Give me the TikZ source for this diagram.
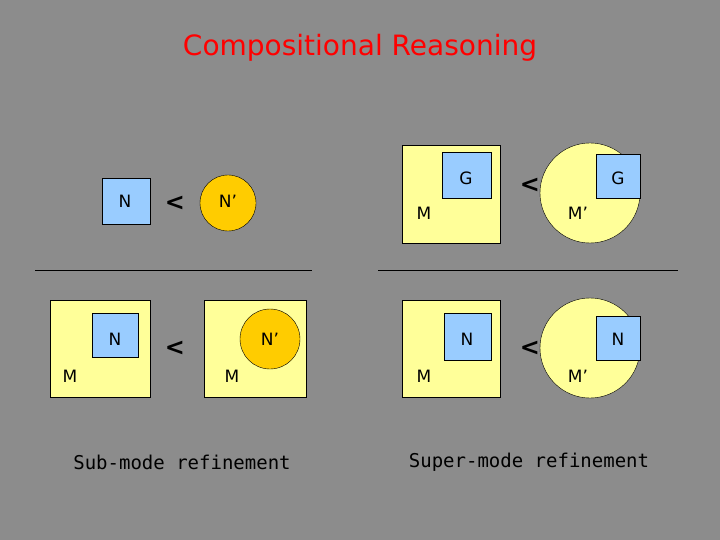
\documentclass[tikz,border=0pt]{standalone}
\usepackage{fontspec}
\setmainfont{DejaVu Sans}
\setmonofont{DejaVu Sans Mono}
\definecolor{bggray}{HTML}{8C8C8C}
\definecolor{pale}{HTML}{FFFF99}
\definecolor{skyb}{HTML}{99CCFF}
\definecolor{amber}{HTML}{FFCC00}
\begin{document}
\begin{tikzpicture}[x=1pt,y=-1pt,
  box/.style={draw,rectangle,anchor=north west,inner sep=0pt},
  lbl/.style={font=\fontsize{17}{17}\selectfont},
  lt/.style={font=\bfseries\fontsize{24}{24}\selectfont}]
  \fill[bggray] (0,0) rectangle (720,540);
  \node[text=red,font=\fontsize{28}{28}\selectfont] (title) at (360,48) {Compositional Reasoning};

  % left top
  \node[box,fill=skyb,minimum width=48pt,minimum height=46pt] (n1) at (102,178) {};
  \node[lbl] at (125,201) {N};
  \node[lt] (lt1) at (175,203) {<};
  \node[draw,circle,fill=amber,minimum size=56pt] (np1) at (228,203) {};
  \node[lbl] at (228,201) {N'};
  \draw (35,270) -- (312,270);

  % left bottom
  \node[box,fill=pale,minimum width=100pt,minimum height=97pt] (m1) at (50,300) {};
  \node[box,fill=skyb,minimum width=46pt,minimum height=44pt] (n2) at (92,313) {};
  \node[lbl] at (115,339) {N};
  \node[lbl] at (70,376) {M};
  \node[lt] (lt2) at (175,348) {<};
  \node[box,fill=pale,minimum width=102pt,minimum height=97pt] (m2) at (204,300) {};
  \node[draw,circle,fill=amber,minimum size=60pt] (np2) at (270,339) {};
  \node[lbl] at (270,339) {N'};
  \node[lbl] at (232,376) {M};

  % right top
  \node[box,fill=pale,minimum width=98pt,minimum height=98pt] (m3) at (402,145) {};
  \node[box,fill=skyb,minimum width=49pt,minimum height=46pt] (g1) at (442,152) {};
  \node[lbl] at (466,178) {G};
  \node[lbl] at (424,213) {M};
  \node[lt] (lt3) at (530,185) {<};
  \node[draw,circle,fill=pale,minimum size=100pt] (mp1) at (590,193) {};
  \node[box,fill=skyb,minimum width=44pt,minimum height=44pt] (g2) at (596,154) {};
  \node[lbl] at (618,178) {G};
  \node[lbl] at (578,213) {M'};
  \draw (378,270) -- (678,270);

  % right bottom
  \node[box,fill=pale,minimum width=98pt,minimum height=97pt] (m4) at (402,300) {};
  \node[box,fill=skyb,minimum width=47pt,minimum height=47pt] (n3) at (444,313) {};
  \node[lbl] at (467,339) {N};
  \node[lbl] at (424,376) {M};
  \node[lt] (lt4) at (530,348) {<};
  \node[draw,circle,fill=pale,minimum size=100pt] (mp2) at (590,348) {};
  \node[box,fill=skyb,minimum width=44pt,minimum height=44pt] (n4) at (596,316) {};
  \node[lbl] at (618,339) {N};
  \node[lbl] at (578,376) {M'};

  \node[font=\ttfamily\fontsize{19}{19}\selectfont] (cap1) at (182,462) {Sub-mode refinement};
  \node[font=\ttfamily\fontsize{19}{19}\selectfont] (cap2) at (529,462) {Super-mode refinement};
\end{tikzpicture}
\end{document}
